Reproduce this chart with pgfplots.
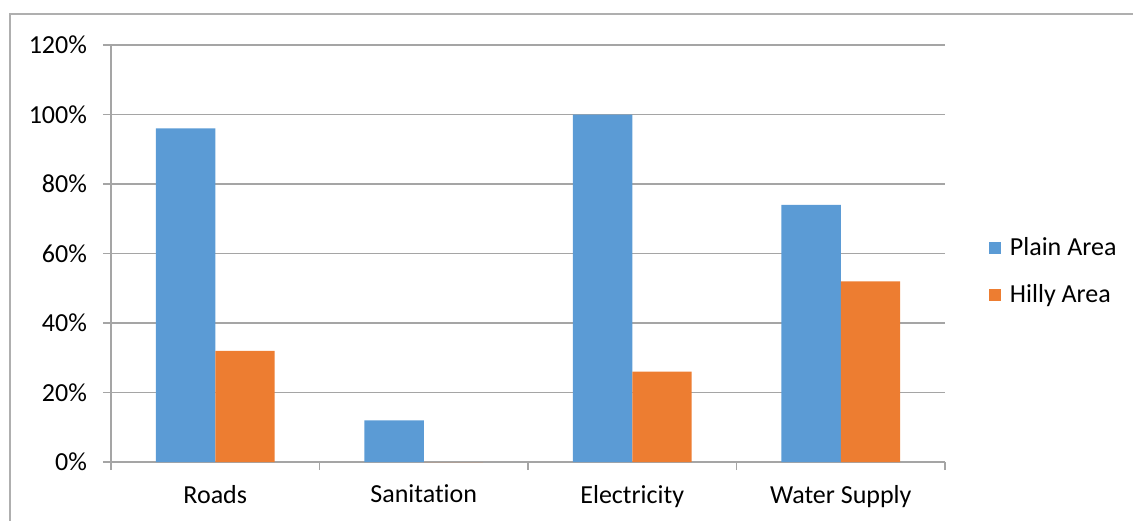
\documentclass[border=0pt]{standalone}
\usepackage{pgfplots}
\pgfplotsset{compat=1.18}
\usepackage{fontspec}
\setmainfont{Carlito}[Ligatures={NoCommon}]
\definecolor{plainc}{RGB}{91,155,213}
\definecolor{hillyc}{RGB}{237,125,49}
\definecolor{gridc}{RGB}{165,165,165}
\definecolor{framec}{RGB}{175,175,175}
\begin{document}
\begin{tikzpicture}
\useasboundingbox (0pt,0pt) rectangle (566.5pt,260pt);
\draw[framec, line width=1pt] (5pt,-5pt) -- (5pt,253pt) -- (570pt,253pt);
\begin{axis}[
  at={(55.5pt,29pt)}, anchor=south west,
  scale only axis, width=417pt, height=208.5pt,
  ybar=0pt, bar width=0.285,
  xmin=-0.5, xmax=3.5,
  ymin=0, ymax=120,
  ytick={0,20,...,120},
  yticklabel={\pgfmathprintnumber{\tick}\%},
  /pgf/number format/assume math mode=true,
  xtick={0,1,2,3},
  xticklabels={Roads,Sanitation,Electricity,Water Supply},
  minor xtick={-0.5,0.5,1.5,2.5,3.5},
  major x tick style={draw=none},
  tick align=outside,
  major tick length=4pt, minor tick length=4pt,
  axis x line*=bottom, axis y line*=left,
  axis line style={gridc, line width=0.75pt},
  tick style={gridc, line width=0.75pt},
  ymajorgrids, grid style={gridc, line width=0.75pt},
  ticklabel style={font=\fontsize{13pt}{15pt}\selectfont, text=black},
  yticklabel style={xshift=-4.5pt},
  xticklabel style={yshift=-4pt},
  legend style={at={(1.045,0.456)}, anchor=west, draw=none, fill=none,
    font=\fontsize{13pt}{15pt}\selectfont, row sep=9pt,
    /tikz/every odd column/.append style={column sep=2.5pt}},
  legend cell align=left,
  legend image code/.code={\fill[#1] (0pt,-3pt) rectangle (6pt,3pt);},
]
\addplot[fill=plainc, draw=none] coordinates {(0,96) (1,12) (2,100) (3,74)};
\addplot[fill=hillyc, draw=none] coordinates {(0,32) (1,0) (2,26) (3,52)};
\legend{Plain Area, Hilly Area}
\end{axis}
\end{tikzpicture}
\end{document}
